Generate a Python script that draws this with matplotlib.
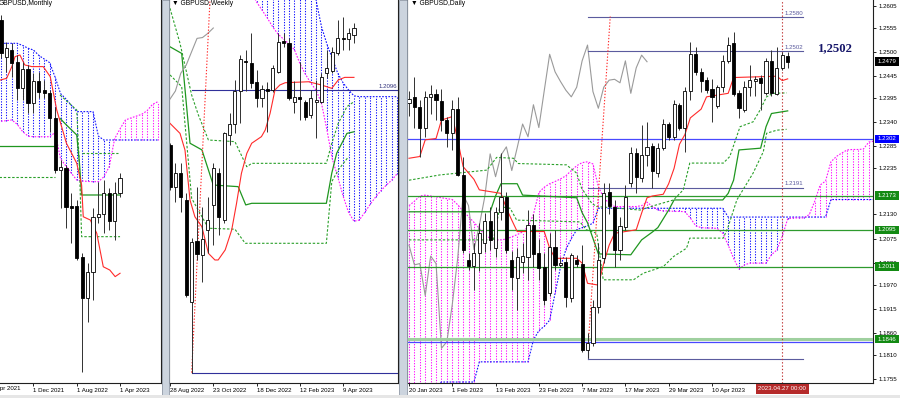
import numpy as np
import matplotlib
matplotlib.use("Agg")
import matplotlib.pyplot as plt
from matplotlib.patches import Rectangle
from matplotlib.transforms import blended_transform_factory

plt.rcParams['font.family'] = ['Liberation Sans', 'DejaVu Sans']

# ================= Monthly GBPUSD (bars Jun 2021 .. Apr 2023) =================
m_open = [1.4231, 1.3827, 1.3900, 1.3771, 1.3477, 1.3687, 1.3311, 1.3558, 1.3458, 1.3422, 1.3146, 1.2575,
          1.2601, 1.2175, 1.2178, 1.1619, 1.1159, 1.1453, 1.2053, 1.2086, 1.2325, 1.2016, 1.2325]
m_high = [1.4286, 1.3992, 1.3974, 1.3845, 1.3771, 1.3735, 1.3642, 1.3661, 1.3569, 1.3459, 1.3275, 1.2686,
          1.2631, 1.2318, 1.2244, 1.1656, 1.1545, 1.2152, 1.2447, 1.2465, 1.2373, 1.2447, 1.2546]
m_low = [1.3809, 1.3661, 1.3606, 1.3348, 1.3348, 1.3201, 1.3201, 1.3366, 1.3366, 1.2999, 1.2539, 1.2152,
         1.1932, 1.1766, 1.1582, 1.0350, 1.0901, 1.1141, 1.1987, 1.1876, 1.1913, 1.1803, 1.2281]
m_close = [1.3864, 1.3919, 1.3753, 1.3477, 1.3687, 1.3311, 1.3558, 1.3440, 1.3429, 1.3146, 1.2575, 1.2612,
           1.2170, 1.2160, 1.1600, 1.1159, 1.1453, 1.2060, 1.2086, 1.2318, 1.2016, 1.2325, 1.2483]
m_span_a = [1.3974, 1.3974, 1.3974, 1.3974, 1.3950, 1.3920, 1.3900, 1.3840, 1.3800, 1.3760, 1.3600, 1.3420,
            1.3360, 1.3290, 1.3220, 1.3220, 1.3220, 1.3220, 1.2950, 1.2907, 1.2907, 1.2907, 1.2907, 1.2907,
            1.2907, 1.2907, 1.2907, 1.2907, 1.2907, 1.2907]
m_span_b = [1.3115, 1.3120, 1.3128, 1.3080, 1.3000, 1.2950, 1.2943, 1.2943, 1.2943, 1.2943, 1.2990, 1.2700,
            1.2620, 1.2540, 1.2465, 1.2455, 1.2450, 1.2447, 1.2447, 1.2500, 1.2612, 1.2920, 1.3030, 1.3128,
            1.3150, 1.3170, 1.3190, 1.3230, 1.3300, 1.3330]
m_tenkan_x = [-0.1, 1.05, 2.0, 2.6, 3.5, 4.4, 5.7, 7.8, 9.1, 10.3, 12.1, 14.0, 14.9, 15.2, 16.5, 17.7, 18.9,
              20.1, 21.1, 22.0]
m_tenkan = [1.3569, 1.3588, 1.3717, 1.3827, 1.3845, 1.3735, 1.3717, 1.3717, 1.3606, 1.3238, 1.2870, 1.2650,
            1.2410, 1.2060, 1.2024, 1.1877, 1.1508, 1.1472, 1.1399, 1.1436]
m_kijun_x = [10.9, 12.1, 14.0, 14.5, 14.9, 22.0]
m_kijun = [1.3146, 1.3072, 1.2962, 1.2650, 1.2300, 1.2300]
m_dash_x = [10.9, 14.0, 14.5, 14.9, 22.0]
m_dash = [1.3404, 1.3238, 1.2600, 1.1840, 1.1840]
m_dash2_x = [14.9, 21.7]
m_dash2 = [1.2760, 1.2760]
m_old_x = [-0.5, 10.0]
m_old_solid = [1.2841, 1.2841]
m_old_dash = [1.2502, 1.2502]
m_tick_pos = [6, 14, 22]
m_tick_lab = ['1 Dec 2021', '1 Aug 2022', '1 Apr 2023']
m_cut_tick = -2
m_cut_lab = '1 Apr 2021'

# ================= Weekly GBPUSD (bars 28 Aug 2022 .. 23 Apr 2023) =================
w_open = [1.1756, 1.1499, 1.1585, 1.1417, 1.0789, 1.1166, 1.1077, 1.1231, 1.1386, 1.1585, 1.1293, 1.1818,
          1.1886, 1.2092, 1.2275, 1.2265, 1.2147, 1.2049, 1.2100, 1.2096, 1.2209, 1.2398, 1.2388, 1.2024,
          1.2055, 1.2024, 1.1942, 1.2024, 1.2024, 1.2201, 1.2215, 1.2323, 1.2419, 1.2409, 1.2436]
w_high = [1.1770, 1.1643, 1.1643, 1.1458, 1.1180, 1.1495, 1.1375, 1.1433, 1.1643, 1.1612, 1.1839, 1.1952,
          1.2158, 1.2312, 1.2343, 1.2446, 1.2220, 1.2127, 1.2147, 1.2250, 1.2446, 1.2446, 1.2415, 1.2150,
          1.2271, 1.2034, 1.2096, 1.2158, 1.2199, 1.2343, 1.2360, 1.2528, 1.2549, 1.2477, 1.2512]
w_low = [1.1480, 1.1406, 1.1345, 1.0820, 1.0350, 1.1046, 1.0912, 1.1087, 1.1139, 1.1200, 1.1272, 1.1756,
         1.1828, 1.1890, 1.2092, 1.2106, 1.1993, 1.1993, 1.1839, 1.2086, 1.2199, 1.2364, 1.2034, 1.1952,
         1.1911, 1.1911, 1.1921, 1.1797, 1.2014, 1.2168, 1.2199, 1.2312, 1.2343, 1.2343, 1.2388]
w_close = [1.1499, 1.1581, 1.1437, 1.0830, 1.1159, 1.1083, 1.1174, 1.1293, 1.1612, 1.1314, 1.1828, 1.1886,
           1.2092, 1.2287, 1.2267, 1.2137, 1.2045, 1.2100, 1.2092, 1.2230, 1.2395, 1.2388, 1.2045, 1.2055,
           1.2038, 1.1931, 1.2045, 1.2034, 1.2174, 1.2230, 1.2333, 1.2415, 1.2409, 1.2446, 1.2481]
w_span_a = [1.3000, 1.3000, 1.3000, 1.3000, 1.3000, 1.3000, 1.3000, 1.3000, 1.3000, 1.3000, 1.3000, 1.3000,
            1.3000, 1.3000, 1.3000, 1.3000, 1.3000, 1.3000, 1.3000, 1.3000, 1.3000, 1.3000, 1.3000, 1.3000,
            1.3000, 1.2950, 1.2800, 1.2650, 1.2487, 1.2380, 1.2290, 1.2200, 1.2140, 1.2096, 1.2060, 1.2055,
            1.2055, 1.2055, 1.2055, 1.2055, 1.2055, 1.2055, 1.2055]
w_span_b = [1.3000, 1.3000, 1.3000, 1.3000, 1.3000, 1.3000, 1.3000, 1.3000, 1.3000, 1.3000, 1.3000, 1.3000,
            1.2950, 1.2850, 1.2760, 1.2700, 1.2640, 1.2590, 1.2540, 1.2485, 1.2440, 1.2410, 1.2380, 1.2345,
            1.2260, 1.2195, 1.2140, 1.2095, 1.2014, 1.1850, 1.1670, 1.1560, 1.1440, 1.1340, 1.1285, 1.1293,
            1.1340, 1.1390, 1.1435, 1.1475, 1.1509, 1.1540, 1.1580]
w_tenkan_x = [0, 1.85, 2.77, 3.7, 4.6, 5.9, 7.1, 8.3, 8.9, 10.2, 11.4, 12.3, 13.2, 14.2, 15.1, 16.9, 17.6,
              18.5, 19.4, 20.3, 21.3, 25.6, 28.0, 29.9, 31.1, 32.3, 34.0]
w_tenkan = [1.1890, 1.1828, 1.1725, 1.1416, 1.1313, 1.1251, 1.1087, 1.1046, 1.1046, 1.1108, 1.1231, 1.1396,
            1.1581, 1.1705, 1.1767, 1.1808, 1.1849, 1.1952, 1.2096, 1.2127, 1.2141, 1.2147, 1.2127, 1.2106,
            1.2158, 1.2174, 1.2174]
w_kijun_x = [0, 2.16, 3.7, 5.9, 7.1, 8.0, 12.6, 14.0, 15.1, 28.9, 29.9, 30.8, 32.7, 34.0]
w_kijun = [1.2363, 1.2322, 1.1767, 1.1726, 1.1602, 1.1509, 1.1499, 1.1386, 1.1396, 1.1396, 1.1582, 1.1705,
           1.1828, 1.1838]
w_dash_up_x = [0, 1.85, 4.0, 5.24, 7.1, 12.0, 14.2, 15.1, 28.9, 29.9, 31.1, 32.7, 34.0]
w_dash_up = [1.2601, 1.2384, 1.2065, 1.1942, 1.1787, 1.1777, 1.1622, 1.1643, 1.1643, 1.1767, 1.1890, 1.1993,
             1.2024]
w_dash_lo_x = [0, 2.16, 4.0, 7.1, 12.0, 13.9, 28.9, 29.9, 31.1, 33.0]
w_dash_lo = [1.2189, 1.2117, 1.1427, 1.1242, 1.1236, 1.1149, 1.1149, 1.1530, 1.1602, 1.1684]
w_chikou = [1.2040, 1.2090, 1.2200, 1.2250, 1.2333, 1.2415, 1.2420, 1.2446, 1.2479]
w_level_hi = 1.2096
w_level_lo = 1.0350
w_level_start = 4
w_red_x = [4.0, 7.4]
w_red = [1.0350, 1.2660]
w_tick_pos = [0, 8, 16, 24, 32]
w_tick_lab = ['28 Aug 2022', '23 Oct 2022', '18 Dec 2022', '12 Feb 2023', '9 Apr 2023']

# ================= Daily GBPUSD (bars 20 Jan 2023 .. 28 Apr 2023) =================
d_open = [1.2384, 1.2398, 1.2374, 1.2326, 1.2398, 1.2404, 1.2388, 1.2345, 1.2316, 1.2370, 1.2220, 1.2027,
          1.2013, 1.2041, 1.2064, 1.2116, 1.2053, 1.2135, 1.2169, 1.2026, 1.1984, 1.2022, 1.2034, 1.2105,
          1.2041, 1.2011, 1.1950, 1.2056, 1.2015, 1.2022, 1.1939, 1.2027, 1.2018, 1.1822, 1.1836, 1.1920,
          1.2030, 1.2180, 1.2148, 1.2049, 1.2102, 1.2201, 1.2271, 1.2212, 1.2265, 1.2286, 1.2224, 1.2282,
          1.2336, 1.2307, 1.2379, 1.2326, 1.2412, 1.2496, 1.2455, 1.2436, 1.2415, 1.2377, 1.2420, 1.2480,
          1.2520, 1.2406, 1.2368, 1.2420, 1.2435, 1.2440, 1.2406, 1.2480, 1.2404, 1.2464, 1.2492]
d_high = [1.2412, 1.2444, 1.2391, 1.2412, 1.2426, 1.2416, 1.2416, 1.2353, 1.2391, 1.2397, 1.2262, 1.2041,
          1.2064, 1.2111, 1.2133, 1.2148, 1.2148, 1.2269, 1.2182, 1.2047, 1.2053, 1.2064, 1.2140, 1.2132,
          1.2075, 1.2041, 1.2087, 1.2094, 1.2034, 1.2034, 1.2041, 1.2037, 1.2060, 1.1859, 1.1935, 1.2064,
          1.2201, 1.2202, 1.2163, 1.2125, 1.2197, 1.2284, 1.2281, 1.2334, 1.2341, 1.2292, 1.2292, 1.2347,
          1.2341, 1.2391, 1.2383, 1.2421, 1.2524, 1.2512, 1.2463, 1.2444, 1.2438, 1.2425, 1.2493, 1.2535,
          1.2545, 1.2413, 1.2433, 1.2470, 1.2446, 1.2448, 1.2486, 1.2505, 1.2512, 1.2501, 1.2501]
d_low = [1.2355, 1.2326, 1.2262, 1.2307, 1.2360, 1.2345, 1.2319, 1.2284, 1.2277, 1.2218, 1.2041, 1.2004,
         1.1958, 1.2002, 1.2044, 1.2049, 1.2034, 1.2117, 1.2041, 1.1958, 1.1912, 1.1996, 1.1981, 1.2011,
         1.1981, 1.1924, 1.1943, 1.2003, 1.2011, 1.1920, 1.1931, 1.2011, 1.1817, 1.1802, 1.1829, 1.1905,
         1.2019, 1.2132, 1.2011, 1.2026, 1.2094, 1.2193, 1.2178, 1.2205, 1.2240, 1.2190, 1.2216, 1.2277,
         1.2300, 1.2300, 1.2322, 1.2273, 1.2391, 1.2448, 1.2410, 1.2406, 1.2341, 1.2372, 1.2410, 1.2474,
         1.2400, 1.2349, 1.2364, 1.2399, 1.2399, 1.2368, 1.2402, 1.2399, 1.2402, 1.2459, 1.2463]
d_close = [1.2392, 1.2374, 1.2326, 1.2397, 1.2404, 1.2391, 1.2345, 1.2316, 1.2370, 1.2220, 1.2049, 1.2013,
           1.2041, 1.2087, 1.2116, 1.2072, 1.2135, 1.2169, 1.2049, 1.1988, 1.2034, 1.2035, 1.2105, 1.2040,
           1.2007, 1.1935, 1.2056, 1.2015, 1.2020, 1.1941, 1.2037, 1.2018, 1.1821, 1.1838, 1.1920, 1.2026,
           1.2178, 1.2149, 1.2049, 1.2104, 1.2170, 1.2269, 1.2216, 1.2265, 1.2284, 1.2228, 1.2282, 1.2336,
           1.2307, 1.2382, 1.2326, 1.2412, 1.2496, 1.2455, 1.2433, 1.2413, 1.2398, 1.2420, 1.2480, 1.2516,
           1.2405, 1.2372, 1.2420, 1.2436, 1.2438, 1.2430, 1.2480, 1.2406, 1.2464, 1.2493, 1.2478]
d_span_a = [1.1700, 1.1705, 1.1712, 1.1720, 1.1730, 1.1740, 1.1748, 1.1748, 1.1748, 1.1748, 1.1748, 1.1748,
            1.1748, 1.1794, 1.1794, 1.1794, 1.1794, 1.1794, 1.1794, 1.1794, 1.1794, 1.1794, 1.1794, 1.1844,
            1.1865, 1.1875, 1.1889, 1.1950, 1.2010, 1.2050, 1.2075, 1.2095, 1.2100, 1.2104, 1.2110, 1.2144,
            1.2144, 1.2144, 1.2144, 1.2144, 1.2144, 1.2144, 1.2144, 1.2144, 1.2144, 1.2144, 1.2144, 1.2144,
            1.2144, 1.2144, 1.2144, 1.2144, 1.2144, 1.2144, 1.2144, 1.2144, 1.2144, 1.2144, 1.2144, 1.2124,
            1.2124, 1.2124, 1.2124, 1.2124, 1.2124, 1.2124, 1.2124, 1.2124, 1.2124, 1.2124, 1.2124, 1.2124,
            1.2124, 1.2124, 1.2124, 1.2124, 1.2124, 1.2124, 1.2164, 1.2164, 1.2164, 1.2164, 1.2164, 1.2164,
            1.2164, 1.2164, 1.2164]
d_span_b = [1.2150, 1.2160, 1.2172, 1.2174, 1.2172, 1.2170, 1.2168, 1.2166, 1.2164, 1.2152, 1.2138, 1.2125,
            1.2112, 1.2098, 1.2083, 1.2076, 1.2072, 1.2072, 1.2074, 1.2079, 1.2084, 1.2090, 1.2102, 1.2130,
            1.2180, 1.2192, 1.2200, 1.2205, 1.2211, 1.2218, 1.2230, 1.2241, 1.2248, 1.2250, 1.2245, 1.2193,
            1.2168, 1.2155, 1.2148, 1.2148, 1.2148, 1.2148, 1.2148, 1.2150, 1.2158, 1.2148, 1.2140, 1.2138,
            1.2138, 1.2137, 1.2137, 1.2136, 1.2122, 1.2104, 1.2100, 1.2099, 1.2099, 1.2098, 1.2087, 1.2060,
            1.2030, 1.2005, 1.2015, 1.2019, 1.2019, 1.2019, 1.2019, 1.2038, 1.2049, 1.2080, 1.2120, 1.2122,
            1.2122, 1.2122, 1.2130, 1.2160, 1.2197, 1.2206, 1.2250, 1.2262, 1.2270, 1.2277, 1.2278, 1.2278,
            1.2279, 1.2295, 1.2297]
d_chikou = [1.2060, 1.2015, 1.2018, 1.1945, 1.2035, 1.2018, 1.1825, 1.1840, 1.1925, 1.2030, 1.2175, 1.2150,
            1.2050, 1.2105, 1.2170, 1.2268, 1.2216, 1.2265, 1.2284, 1.2230, 1.2282, 1.2336, 1.2307, 1.2380,
            1.2328, 1.2412, 1.2495, 1.2455, 1.2433, 1.2413, 1.2398, 1.2420, 1.2480, 1.2516, 1.2410, 1.2372,
            1.2420, 1.2436, 1.2438, 1.2430, 1.2480, 1.2406, 1.2464, 1.2493, 1.2478]
d_tenkan_x = [0, 2, 3, 5, 6, 8, 9, 10, 12, 13, 17, 18, 19, 20, 25, 26, 27, 31, 32, 33, 35, 36, 37, 38, 42,
              43, 44, 45, 47, 48, 49, 50, 51, 52, 54, 55, 59, 60, 68, 69, 70]
d_tenkan = [1.2258, 1.2262, 1.2300, 1.2303, 1.2345, 1.2353, 1.2300, 1.2239, 1.2210, 1.2186, 1.2178, 1.2144,
            1.2117, 1.2091, 1.2091, 1.2053, 1.2030, 1.2030, 1.2019, 1.1973, 1.1969, 1.2019, 1.2060, 1.2087,
            1.2095, 1.2133, 1.2168, 1.2172, 1.2176, 1.2200, 1.2235, 1.2290, 1.2312, 1.2350, 1.2370, 1.2398,
            1.2406, 1.2442, 1.2445, 1.2435, 1.2439]
d_kijun_x = [0, 15, 16, 17, 20, 21, 31, 32, 33, 35, 41, 43, 45, 46, 48, 49, 58, 59, 60, 61, 65, 66, 67, 70]
d_kijun = [1.2136, 1.2136, 1.2172, 1.2200, 1.2200, 1.2174, 1.2168, 1.2134, 1.2111, 1.2040, 1.2038, 1.2072,
           1.2090, 1.2100, 1.2140, 1.2163, 1.2163, 1.2178, 1.2208, 1.2277, 1.2281, 1.2330, 1.2360, 1.2366]
d_dash_up_x = [0, 5.7, 14.4, 16.2, 19.3, 20.2, 29.1, 31, 31.9, 33.8, 34.7, 42.7, 45.8, 48.9, 50.7, 51.9,
               58.1, 59.3, 61.2, 63.6, 64.9, 66.1, 67.3, 69.8]
d_dash_up = [1.2208, 1.2220, 1.2231, 1.2260, 1.2258, 1.2246, 1.2243, 1.2224, 1.2190, 1.2155, 1.2148, 1.2140,
             1.2152, 1.2163, 1.2186, 1.2247, 1.2247, 1.2262, 1.2330, 1.2341, 1.2368, 1.2398, 1.2406, 1.2407]
d_dash_lo_x = [0, 15.6, 16.8, 18.7, 19.9, 31.6, 32.8, 34.7, 35.9, 41.5, 43.3, 47, 48.9, 51.3, 51.9, 58.1,
               59, 60.6, 63.6, 65.5, 66.1, 68, 69.8]
d_dash_lo = [1.2072, 1.2072, 1.2148, 1.2144, 1.2117, 1.2113, 1.2095, 1.2087, 1.1981, 1.1981, 1.1996, 1.2011,
             1.2034, 1.2053, 1.2076, 1.2076, 1.2102, 1.2163, 1.2224, 1.2273, 1.2315, 1.2322, 1.2324]
d_full_blue = [1.2302, 1.1840]
d_full_green = [1.2173, 1.2095, 1.2011]
d_thick_green = 1.1846
d_seg_levels = [1.2580, 1.2502, 1.2191, 1.1800]
d_seg_labels = ['1.2580', '1.2502', '1.2191', '']
d_seg_x = [33.1, 72.9]
d_red_x = [33.1, 37.2]
d_red = [1.1829, 1.2581]
d_cursor = 69
d_cursor_lab = '2023.04.27 00:00'
d_tick_pos = [0, 8, 16, 24, 32, 40, 48, 56]
d_tick_lab = ['20 Jan 2023', '1 Feb 2023', '13 Feb 2023', '23 Feb 2023', '7 Mar 2023', '17 Mar 2023',
              '29 Mar 2023', '10 Apr 2023']
d_price_ticks = [1.2605, 1.2555, 1.2500, 1.2445, 1.2395, 1.2340, 1.2285, 1.2235, 1.2130, 1.2075,
                 1.2020, 1.1970, 1.1915, 1.1860, 1.1810, 1.1755]
d_boxes = [1.2479, 1.2302, 1.2173, 1.2095, 1.2011, 1.1846]
d_box_colors = ['#000000', '#0000ff', '#138a13', '#138a13', '#138a13', '#138a13']
big_label = '1,2502'

# ================= drawing =================
W, H = 900, 398
fig = plt.figure(figsize=(9, 3.98), dpi=100)
fig.patch.set_facecolor('white')
FS = 4.4
BLUE = '#1010ff'
MAG = '#ff10ff'
RED = '#ff2a2a'
GREEN = '#1f961f'
DGREEN = '#2aa02a'
SLATE = '#5b5b9e'


def make_axes(x0, y0, x1, y1):
    return fig.add_axes([x0 / W, 1 - y1 / H, (x1 - x0) / W, (y1 - y0) / H])


def frame(ax, xlim, ylim, left=True):
    ax.set_xlim(*xlim)
    ax.set_ylim(*ylim)
    ax.set_facecolor('white')
    ax.spines['top'].set_visible(False)
    ax.spines['left'].set_visible(left)
    for s in ['bottom', 'right', 'left']:
        ax.spines[s].set_color('#202020')
        ax.spines[s].set_linewidth(0.8)
    ax.set_yticks([])
    ax.tick_params(axis='x', direction='out', length=2.5, width=0.6, pad=1.0, labelsize=FS, colors='black')


def xticks(ax, pos, lab):
    ax.set_xticks(pos)
    ax.set_xticklabels(lab, ha='left', fontsize=FS)


def candles(ax, o, h, l, c, minh):
    o, h, l, c = map(np.asarray, (o, h, l, c))
    x = np.arange(len(o))
    ax.vlines(x, l, h, color='#303030', lw=0.7, zorder=5)
    up = c >= o
    bot = np.minimum(o, c)
    hgt = np.maximum(np.abs(c - o), minh)
    ax.bar(x[up], hgt[up], bottom=bot[up], width=0.58, facecolor='white', edgecolor='black',
           linewidth=0.6, zorder=6)
    ax.bar(x[~up], hgt[~up], bottom=bot[~up], width=0.58, facecolor='black', edgecolor='black',
           linewidth=0.6, zorder=6)


def cloud(ax, a, b):
    a = np.asarray(a)
    b = np.asarray(b)
    x = np.arange(len(a))
    cols = [BLUE if aa >= bb else MAG for aa, bb in zip(a, b)]
    ax.vlines(x, np.minimum(a, b), np.maximum(a, b), colors=cols, linestyles=[(0, (1.2, 1.4))],
              lw=0.75, zorder=1)
    ax.plot(x, a, color=BLUE, ls=(0, (1.5, 1.3)), lw=0.8, zorder=2)
    ax.plot(x, b, color=MAG, ls=(0, (1.5, 1.3)), lw=0.8, zorder=2)


# ---------- monthly ----------
axm = make_axes(0, 0, 161, 383)
frame(axm, (-0.185, 29.57), (1.0225, 1.4452), left=False)
cloud(axm, m_span_a, m_span_b)
axm.plot(m_old_x, m_old_solid, color=GREEN, lw=0.9, zorder=3)
axm.plot(m_old_x, m_old_dash, color=DGREEN, lw=0.8, ls=(0, (2.2, 1.6)), zorder=3)
axm.plot(m_dash_x, m_dash, color=DGREEN, lw=0.8, ls=(0, (2.2, 1.6)), zorder=3)
axm.plot(m_dash2_x, m_dash2, color=DGREEN, lw=0.8, ls=(0, (2.2, 1.6)), zorder=3)
axm.plot(m_kijun_x, m_kijun, color=GREEN, lw=0.9, zorder=4)
axm.plot(m_tenkan_x, m_tenkan, color=RED, lw=0.8, zorder=4)
candles(axm, m_open, m_high, m_low, m_close, 0.0009)
xticks(axm, m_tick_pos, m_tick_lab)
tr = blended_transform_factory(axm.transData, axm.transAxes)
axm.text(m_cut_tick + 0.2, -0.008, m_cut_lab, transform=tr, ha='left', va='top', fontsize=FS, clip_on=False)
axm.text(-0.006, 0.999, 'GBPUSD,Monthly', transform=axm.transAxes, ha='left', va='top', fontsize=4.9)

# ---------- weekly ----------
axw = make_axes(169, 0, 398, 383)
frame(axw, (-0.185, 42.14), (1.0286, 1.2652))
cloud(axw, w_span_a, w_span_b)
axw.plot(w_dash_up_x, w_dash_up, color=DGREEN, lw=0.8, ls=(0, (2.2, 1.6)), zorder=3)
axw.plot(w_dash_lo_x, w_dash_lo, color=DGREEN, lw=0.8, ls=(0, (2.2, 1.6)), zorder=3)
axw.plot(w_kijun_x, w_kijun, color=GREEN, lw=0.9, zorder=4)
axw.plot(w_tenkan_x, w_tenkan, color=RED, lw=0.8, zorder=4)
axw.plot(np.arange(len(w_chikou)), w_chikou, color='#9a9a9a', lw=0.8, zorder=4)
axw.plot(w_red_x, w_red, color=RED, lw=0.8, ls=(0, (1.2, 1.6)), zorder=4)
axw.plot([w_level_start, 42.14], [w_level_hi, w_level_hi], color='#30309a', lw=0.8, zorder=3)
axw.plot([w_level_start, 42.14], [w_level_lo, w_level_lo], color='#30309a', lw=0.8, zorder=3)
trw = blended_transform_factory(axw.transAxes, axw.transData)
axw.text(0.995, w_level_hi + 0.0004, '1.2096', transform=trw, ha='right', va='bottom', fontsize=FS,
         color='#30307a', zorder=7)
candles(axw, w_open, w_high, w_low, w_close, 0.0005)
xticks(axw, w_tick_pos, w_tick_lab)
axw.text(0.015, 0.999, '\u25bc GBPUSD,Weekly', transform=axw.transAxes, ha='left', va='top', fontsize=4.9)

# ---------- daily ----------
axd = make_axes(407, 0, 873, 383)
frame(axd, (-0.37, 85.77), (1.17458, 1.26187))
cloud(axd, d_span_a, d_span_b)
axd.plot(np.arange(len(d_chikou)), d_chikou, color='#9a9a9a', lw=0.8, zorder=2)
for lv in d_full_green:
    axd.axhline(lv, color='#2e9a2e', lw=0.9, zorder=3)
axd.axhline(d_thick_green, color='#9fd09f', lw=2.2, zorder=3)
axd.axhline(d_full_blue[0], color='#4848ff', lw=0.9, zorder=3)
axd.axhline(d_full_blue[1], color='#4848ff', lw=0.9, zorder=3)
for lv, lb in zip(d_seg_levels, d_seg_labels):
    axd.plot(d_seg_x, [lv, lv], color=SLATE, lw=0.8, zorder=3)
    if lb:
        axd.text(d_cursor + 0.35, lv + 0.0003, lb, ha='left', va='bottom', fontsize=FS, color=SLATE, zorder=7)
axd.plot([d_seg_x[0], d_seg_x[0]], [d_seg_levels[-1], d_red[0]], color=SLATE, lw=0.8, zorder=3)
axd.plot(d_dash_up_x, d_dash_up, color=DGREEN, lw=0.8, ls=(0, (2.2, 1.6)), zorder=3)
axd.plot(d_dash_lo_x, d_dash_lo, color=DGREEN, lw=0.8, ls=(0, (2.2, 1.6)), zorder=3)
axd.plot(d_kijun_x, d_kijun, color=GREEN, lw=0.9, zorder=4)
axd.plot(d_tenkan_x, d_tenkan, color=RED, lw=0.8, zorder=4)
axd.plot(d_red_x, d_red, color=RED, lw=0.8, ls=(0, (1.2, 1.6)), zorder=4)
axd.axvline(d_cursor, color='#c03535', lw=0.8, ls=(0, (1.2, 1.8)), zorder=4)
candles(axd, d_open, d_high, d_low, d_close, 0.00012)
xticks(axd, d_tick_pos, d_tick_lab)
axd.yaxis.tick_right()
axd.set_yticks(d_price_ticks)
axd.set_yticklabels(['%.4f' % v for v in d_price_ticks], fontsize=FS)
axd.tick_params(axis='y', direction='out', length=2.5, width=0.6, pad=1.5, labelsize=FS)
axd.text(0.008, 0.999, '\u25bc GBPUSD,Daily', transform=axd.transAxes, ha='left', va='top', fontsize=4.9)
axd.text(75.6, 1.2509, big_label, ha='left', va='center', fontsize=9.2, fontweight='bold',
         family=['Liberation Serif', 'DejaVu Serif'], color='#16166a', zorder=8)

# price boxes on the right axis
trd = blended_transform_factory(axd.transAxes, axd.transData)
bw = 24 / 466.0
bh = 8.5 / 4388.0
for lv, col in zip(d_boxes, d_box_colors):
    axd.add_patch(Rectangle((1.0043, lv - bh / 2), bw, bh, transform=trd, facecolor=col,
                            edgecolor='none', clip_on=False, zorder=20))
    axd.text(1.0043 + bw / 2, lv, '%.4f' % lv, transform=trd, ha='center', va='center',
             fontsize=FS, color='white', clip_on=False, zorder=21)

# cursor date box
trx = blended_transform_factory(axd.transData, axd.transAxes)
cw = 53 / 5.41
axd.add_patch(Rectangle((d_cursor - cw / 2, -10.5 / 383), cw, 9.5 / 383, transform=trx,
                        facecolor='#b52a2a', edgecolor='none', clip_on=False, zorder=20))
axd.text(d_cursor, -5.8 / 383, d_cursor_lab, transform=trx, ha='center', va='center', fontsize=FS,
         color='white', clip_on=False, zorder=21)

# window separators
for x0, x1 in [(161.5, 168.5), (398.5, 406.5)]:
    fig.add_artist(Rectangle((x0 / W, 0), (x1 - x0) / W, 1, transform=fig.transFigure,
                             facecolor='#ccd4de', edgecolor='#8f98a6', linewidth=0.6, zorder=30))
fig.add_artist(Rectangle((0, 0), 1, 3.5 / H, transform=fig.transFigure, facecolor='#e6e6e6',
                         edgecolor='none', zorder=30))

fig.savefig('out.png', dpi=100)
